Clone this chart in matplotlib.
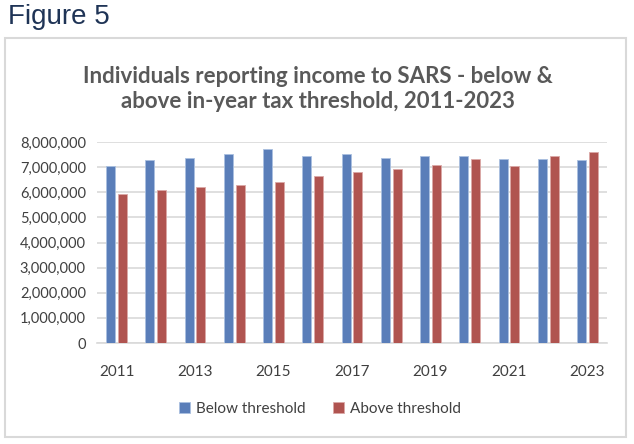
import matplotlib
matplotlib.use("Agg")
import matplotlib.pyplot as plt
import numpy as np
from matplotlib.patches import Rectangle
from matplotlib.ticker import FuncFormatter

years = [2011, 2012, 2013, 2014, 2015, 2016, 2017, 2018, 2019, 2020, 2021, 2022, 2023]
below = [7040000, 7290000, 7370000, 7520000, 7740000, 7440000, 7520000,
         7370000, 7450000, 7450000, 7330000, 7330000, 7300000]
above = [5920000, 6070000, 6210000, 6290000, 6400000, 6660000, 6810000,
         6920000, 7080000, 7330000, 7040000, 7450000, 7600000]
series_names = ["Below threshold", "Above threshold"]
title = "Individuals reporting income to SARS - below &\nabove in-year tax threshold, 2011-2023"
fig_label = "Figure 5"

W, H = 634, 444
fig = plt.figure(figsize=(W / 100, H / 100), dpi=100)
fig.patch.set_facecolor("white")

# chart border box
fig.patches.append(Rectangle((5 / W, 1 - 437 / H), 621 / W, 399 / H,
                             transform=fig.transFigure, fill=False,
                             edgecolor="#d9d9d9", linewidth=1.5))

fig.text(8 / W, 1 - 17 / H, fig_label, fontsize=20, color="#1f3456",
         family="Liberation Sans", va="center", ha="left")

fig.text(318 / W, 1 - 89 / H, title, fontsize=16, fontweight="bold",
         color="#595959", family="Lato", ha="center", va="center",
         linespacing=1.25)

ax = fig.add_axes([97 / W, 1 - 343 / H, 510 / W, 201 / H])
x = np.arange(len(years))
bw = 0.23
ax.bar(x - 0.15, below, bw, color="#5a7eb9", edgecolor="#aac0e0",
       linewidth=0.6, label=series_names[0], zorder=3)
ax.bar(x + 0.15, above, bw, color="#b05450", edgecolor="#dba8a6",
       linewidth=0.6, label=series_names[1], zorder=3)

ax.set_xlim(-0.5, len(years) - 0.5)
ax.set_ylim(0, 8000000)
ax.set_yticks(np.arange(0, 8000001, 1000000))
ax.yaxis.set_major_formatter(FuncFormatter(lambda v, p: f"{int(v):,}"))
ax.set_xticks(x[::2])
ax.set_xticklabels([str(y) for y in years[::2]])
ax.grid(axis="y", color="#d9d9d9", linewidth=1.2, zorder=0)
for s in ["top", "right", "left"]:
    ax.spines[s].set_visible(False)
ax.spines["bottom"].set_color("#d9d9d9")
ax.spines["bottom"].set_linewidth(1.2)
ax.tick_params(length=0, labelsize=10.5, colors="#404040", pad=8)
ax.tick_params(axis="x", pad=16, labelsize=11)
for lab in ax.get_xticklabels() + ax.get_yticklabels():
    lab.set_family("Lato")

leg = fig.legend(loc="center", bbox_to_anchor=(320 / W, 1 - 409 / H), ncol=2,
                 frameon=False, prop={"family": "Lato", "size": 11},
                 handlelength=0.7, handleheight=0.7, columnspacing=1.8,
                 handletextpad=0.4)
for t in leg.get_texts():
    t.set_color("#404040")

fig.savefig("out.png", dpi=100, facecolor="white")
